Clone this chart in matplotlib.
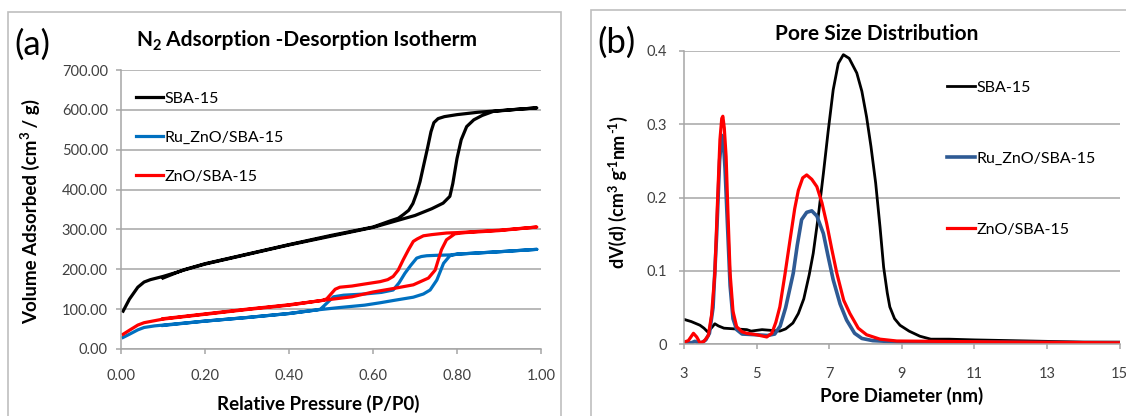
import numpy as np
import matplotlib
matplotlib.use('Agg')
import matplotlib.pyplot as plt
from matplotlib.patches import Rectangle
from matplotlib.ticker import MultipleLocator, FormatStrFormatter

plt.rcParams['font.family'] = ['Lato', 'DejaVu Sans']

# ---------------- isotherm data (P/P0, cm3/g) ----------------
sba_ads_p = [0.005, 0.02, 0.04, 0.055, 0.07, 0.1, 0.15, 0.2, 0.3, 0.4, 0.5, 0.6, 0.65, 0.7,
             0.74, 0.767, 0.783, 0.79, 0.8, 0.81, 0.823, 0.84, 0.86, 0.886, 0.94, 0.99]
sba_ads_v = [95, 125, 155, 168, 174, 182, 198, 213, 237, 261, 283, 305, 320, 335,
             352, 366, 383, 415, 478, 525, 558, 575, 586, 596, 601, 605]
sba_des_p = [0.99, 0.95, 0.9, 0.85, 0.8, 0.77, 0.755, 0.745, 0.738, 0.73, 0.72, 0.712,
             0.704, 0.695, 0.685, 0.672, 0.66, 0.64, 0.6, 0.5, 0.4, 0.3, 0.2, 0.15, 0.1]
sba_des_v = [605, 602, 598, 594, 588, 583, 578, 568, 545, 505, 458, 420,
             391, 365, 348, 337, 328, 321, 306, 285, 262, 238, 214, 199, 178]

zno_ads_p = [0.005, 0.02, 0.04, 0.055, 0.08, 0.1, 0.15, 0.2, 0.3, 0.4, 0.48, 0.55, 0.6, 0.65,
             0.696, 0.732, 0.748, 0.755, 0.763, 0.775, 0.795, 0.82, 0.9, 0.99]
zno_ads_v = [37, 47, 60, 66, 71, 75, 81, 87, 99, 110, 122, 131, 143, 152,
             161, 178, 198, 222, 249, 274, 289, 292, 297, 306]
zno_des_p = [0.99, 0.9, 0.8, 0.775, 0.74, 0.72, 0.705, 0.696, 0.685, 0.672, 0.66, 0.648,
             0.635, 0.617, 0.58, 0.55, 0.521, 0.51, 0.5, 0.49, 0.48, 0.4, 0.3, 0.2, 0.1]
zno_des_v = [306, 298, 292, 291, 287, 284, 276, 270, 250, 224, 198, 182,
             174, 169, 163, 158, 155, 150, 138, 126, 122, 111, 100, 88, 76]

ru_ads_p = [0.005, 0.02, 0.04, 0.055, 0.08, 0.1, 0.2, 0.3, 0.4, 0.466, 0.52, 0.58, 0.617, 0.65,
            0.696, 0.72, 0.736, 0.752, 0.768, 0.783, 0.8, 0.9, 0.99]
ru_ads_v = [29, 37, 48, 54, 58, 60, 70, 79, 89, 98, 104, 110, 116, 122,
            130, 138, 148, 173, 215, 234, 238, 244, 250]
ru_des_p = [0.99, 0.9, 0.8, 0.783, 0.75, 0.728, 0.715, 0.704, 0.69, 0.676, 0.662, 0.648,
            0.62, 0.58, 0.53, 0.506, 0.49, 0.475, 0.466, 0.4, 0.3, 0.2, 0.1]
ru_des_v = [250, 244, 238, 236, 235, 234, 232, 228, 210, 190, 166, 148,
            142, 138, 135, 131, 115, 100, 98, 89, 79, 70, 59]

# ---------------- pore size distribution (nm, cm3 g-1 nm-1) ----------------
sba_d = [3.0, 3.2, 3.44, 3.55, 3.65, 3.75, 3.85, 3.95, 4.1, 4.4, 4.73, 4.85, 5.0, 5.15, 5.4,
         5.64, 5.8, 6.0, 6.15, 6.3, 6.45, 6.56, 6.7, 6.84, 6.97, 7.11, 7.25, 7.39, 7.55,
         7.76, 7.9, 8.03, 8.15, 8.28, 8.4, 8.5, 8.6, 8.67, 8.8, 8.95, 9.2, 9.5, 9.8,
         10.3, 11, 12, 13, 14, 15]
sba_dv = [0.034, 0.031, 0.026, 0.022, 0.017, 0.022, 0.028, 0.025, 0.022, 0.021, 0.020, 0.018,
          0.019, 0.020, 0.019, 0.018, 0.021, 0.029, 0.042, 0.062, 0.095, 0.124, 0.175, 0.233,
          0.29, 0.347, 0.383, 0.395, 0.39, 0.37, 0.345, 0.31, 0.27, 0.22, 0.16, 0.105, 0.07,
          0.051, 0.035, 0.026, 0.018, 0.011, 0.007, 0.007, 0.006, 0.005, 0.004, 0.003, 0.003]

ru_d = [3.0, 3.2, 3.3, 3.45, 3.6, 3.7, 3.8, 3.9, 3.98, 4.04, 4.08, 4.13, 4.2, 4.27, 4.35,
        4.45, 4.6, 5.0, 5.3, 5.5, 5.65, 5.8, 6.01, 6.12, 6.24, 6.38, 6.52, 6.66, 6.84,
        6.97, 7.11, 7.3, 7.48, 7.7, 7.9, 8.2, 9.0, 11, 15]
ru_dv = [0.002, 0.002, 0.004, 0.001, 0.006, 0.015, 0.05, 0.15, 0.25, 0.285, 0.28, 0.24,
         0.16, 0.08, 0.035, 0.02, 0.014, 0.013, 0.012, 0.014, 0.025, 0.05, 0.097, 0.135,
         0.17, 0.18, 0.182, 0.175, 0.151, 0.12, 0.088, 0.055, 0.033, 0.015, 0.008, 0.005,
         0.003, 0.003, 0.002]

zno_d = [3.0, 3.12, 3.26, 3.35, 3.44, 3.55, 3.67, 3.76, 3.85, 3.92, 3.99, 4.04, 4.07, 4.11,
         4.16, 4.21, 4.27, 4.35, 4.45, 4.6, 4.73, 5.0, 5.28, 5.42, 5.53, 5.64, 5.78, 5.92,
         6.05, 6.15, 6.27, 6.38, 6.52, 6.66, 6.8, 6.93, 7.07, 7.21, 7.4, 7.57, 7.8, 8.03,
         8.4, 8.86, 10, 12, 15]
zno_dv = [0.003, 0.005, 0.015, 0.010, 0.002, 0.004, 0.012, 0.04, 0.097, 0.19, 0.279, 0.308,
          0.311, 0.295, 0.256, 0.18, 0.097, 0.045, 0.024, 0.017, 0.015, 0.013, 0.010, 0.015,
          0.03, 0.051, 0.095, 0.142, 0.185, 0.21, 0.227, 0.231, 0.225, 0.215, 0.193, 0.165,
          0.13, 0.097, 0.06, 0.042, 0.022, 0.013, 0.007, 0.0045, 0.004, 0.003, 0.002]

labels = ['SBA-15', 'Ru_ZnO/SBA-15', 'ZnO/SBA-15']
pore_ticks = [3, 5, 7, 9, 11, 13, 15]

W, H = 1126, 416
fig = plt.figure(figsize=(W / 100, H / 100), dpi=100)
renderer = fig.canvas.get_renderer()

# panel frames
fig.patches.append(Rectangle((8 / W, -0.05), 553 / W, 1 - 12 / H + 0.05, transform=fig.transFigure,
                             fill=False, edgecolor='#BFBFBF', linewidth=1.2))
fig.patches.append(Rectangle((591 / W, -0.05), 0.5, 1 - 10 / H + 0.05, transform=fig.transFigure,
                             fill=False, edgecolor='#BFBFBF', linewidth=1.2))


def bold_rich(cx, cy, parts, size, vertical=False):
    """Bold label built from pieces; kind 0 normal, -1 subscript, +1 superscript.
    (cx, cy) is the centre of the baseline in pixels from the bottom-left."""
    sizes = [size if k == 0 else size * 0.7 for _, k in parts]
    widths = []
    for (s, k), fs in zip(parts, sizes):
        t = fig.text(0, 0, s, fontsize=fs, fontweight='bold')
        widths.append(t.get_window_extent(renderer).width)
        t.remove()
    pos = -sum(widths) / 2
    px_per_pt = 100 / 72
    for (s, k), fs, w in zip(parts, sizes, widths):
        shift = {0: 0, -1: -0.18, 1: 0.38}[k] * size * px_per_pt
        if vertical:
            x, y, rot = cx - shift, cy + pos, 90
        else:
            x, y, rot = cx + pos, cy + shift, 0
        fig.text(x / W, y / H, s, fontsize=fs, fontweight='bold', rotation=rot,
                 rotation_mode='anchor', ha='left', va='baseline')
        pos += w


def style_axes(ax):
    ax.grid(axis='y', color='#A6A6A6', linewidth=1.1)
    ax.set_axisbelow(True)
    for s in ['top', 'right']:
        ax.spines[s].set_visible(False)
    for s in ['left', 'bottom']:
        ax.spines[s].set_color('#A6A6A6')
        ax.spines[s].set_linewidth(1.1)
    ax.tick_params(axis='both', colors='#A6A6A6', labelcolor='#404040', labelsize=10.5,
                   direction='out', length=3.5, width=1.1)


# ---------------- (a) isotherm ----------------
ax1 = fig.add_axes([121 / W, 1 - 349 / H, 420 / W, 279 / H])
style_axes(ax1)
lw = 2.3
ax1.plot(sba_ads_p + sba_des_p, sba_ads_v + sba_des_v, color='black', lw=lw, label=labels[0])
ax1.plot(ru_ads_p + ru_des_p, ru_ads_v + ru_des_v, color='#0070C0', lw=lw, label=labels[1])
ax1.plot(zno_ads_p + zno_des_p, zno_ads_v + zno_des_v, color='#FF0000', lw=lw, label=labels[2])
ax1.set_xlim(0, 1)
ax1.set_ylim(0, 700)
ax1.xaxis.set_major_locator(MultipleLocator(0.2))
ax1.yaxis.set_major_locator(MultipleLocator(100))
ax1.xaxis.set_major_formatter(FormatStrFormatter('%.2f'))
ax1.yaxis.set_major_formatter(FormatStrFormatter('%.2f'))
ax1.tick_params(axis='x', pad=11)
ax1.tick_params(axis='y', pad=6)
ax1.set_xlabel('Relative Pressure (P/P0)', fontsize=13.5, fontweight='bold', labelpad=5)
ax1.xaxis.set_label_coords(0.47, -0.165)
ax1.legend(loc='upper left', bbox_to_anchor=(0.02, 0.945), frameon=False, fontsize=11.5,
           handlelength=1.7, handletextpad=0.1, labelspacing=1.55, borderaxespad=0)
bold_rich(307, H - 46, [('N', 0), ('2', -1), (' Adsorption -Desorption Isotherm', 0)], 15)
bold_rich(37, H - 211, [('Volume Adsorbed (cm', 0), ('3', 1), (' / g)', 0)], 13.5, vertical=True)
fig.text(14 / W, 1 - 45 / H, '(a)', ha='left', va='center', fontsize=25)

# ---------------- (b) pore size distribution ----------------
ax2 = fig.add_axes([684 / W, 1 - 344.3 / H, 435.6 / W, 293.3 / H])
style_axes(ax2)
ax2.plot(sba_d, sba_dv, color='black', lw=2.0, label=labels[0])
ax2.plot(ru_d, ru_dv, color='#2E5A94', lw=2.6, label=labels[1])
ax2.plot(zno_d, zno_dv, color='#FF0000', lw=2.3, label=labels[2])
ax2.set_xlim(3, 15)
ax2.set_ylim(0, 0.4)
ax2.set_xticks(pore_ticks)
ax2.yaxis.set_major_locator(MultipleLocator(0.1))
ax2.yaxis.set_major_formatter(lambda v, p: '0' if v == 0 else f'{v:g}')
ax2.tick_params(axis='x', pad=13)
ax2.tick_params(axis='y', pad=9)
ax2.set_xlabel('Pore Diameter (nm)', fontsize=13.5, fontweight='bold', labelpad=4)
ax2.legend(loc='upper left', bbox_to_anchor=(0.59, 0.92), frameon=False, fontsize=11.5,
           handlelength=1.7, handletextpad=0.1, labelspacing=3.55, borderaxespad=0)
fig.text(877 / W, 1 - 34 / H, 'Pore Size Distribution', ha='center', va='center',
         fontsize=15, fontweight='bold')
bold_rich(624, H - 192, [('dV(d) (cm', 0), ('3', 1), (' g', 0), ('-1', 1), ('nm', 0), ('-1', 1),
                         (')', 0)], 13, vertical=True)
fig.text(597 / W, 1 - 43 / H, '(b)', ha='left', va='center', fontsize=25)

fig.savefig('out.png', dpi=100)
